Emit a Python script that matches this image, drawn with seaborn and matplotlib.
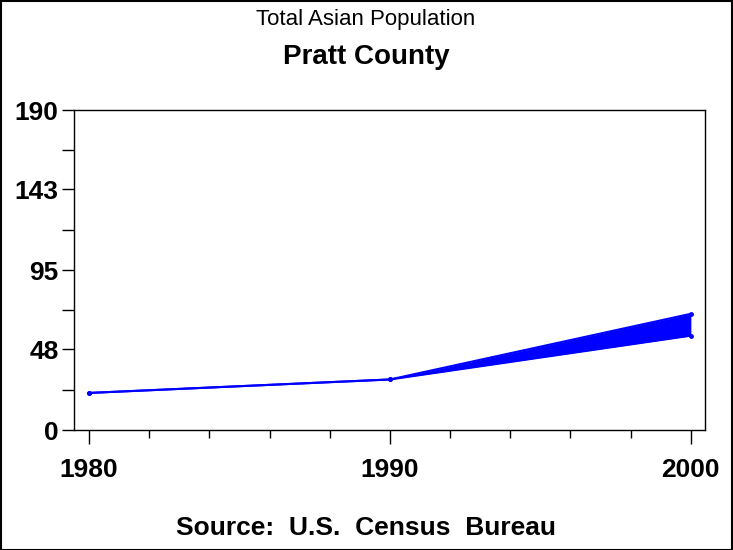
import matplotlib
matplotlib.use("Agg")
import matplotlib.pyplot as plt
import seaborn as sns
import pandas as pd
from matplotlib.ticker import MultipleLocator, FixedLocator

years = [1980, 1990, 2000]
upper = [22, 30, 69]
lower = [22, 30, 56]
yticks = [0, 48, 95, 143, 190]
xticks = [1980, 1990, 2000]

sns.set_style("white")
plt.rcParams['font.family'] = ['Liberation Sans', 'DejaVu Sans']
plt.rcParams['text.color'] = 'black'
plt.rcParams['xtick.color'] = 'black'
plt.rcParams['ytick.color'] = 'black'

fig = plt.figure(figsize=(7.33, 5.5), dpi=100)
ax = fig.add_axes([74/733, 120/550, (705-74)/733, 320/550])

df = pd.DataFrame({"year": years + years, "value": upper + lower,
                   "s": ["u"]*3 + ["l"]*3})
sns.lineplot(data=df, x="year", y="value", units="s", estimator=None,
             color="#0000ff", lw=1.5, marker="o", markersize=3.5,
             markeredgewidth=0, ax=ax, legend=False)
ax.fill_between(years, lower, upper, color="#0000ff", lw=0)

ax.set_xlim(1979.5, 2000.47)
ax.set_ylim(0, 190)
ax.yaxis.set_major_locator(FixedLocator(yticks))
ax.yaxis.set_minor_locator(FixedLocator([24, 71.5, 119, 166.5]))
ax.xaxis.set_major_locator(FixedLocator(xticks))
ax.xaxis.set_minor_locator(MultipleLocator(2))
ax.tick_params(axis="both", which="both", direction="out", color="black",
               labelcolor="black", width=1, length=9, bottom=True, left=True)
ax.tick_params(axis="x", which="major", length=10, pad=10)
ax.tick_params(axis="x", which="minor", length=6)
ax.tick_params(axis="y", which="both", length=9, pad=2)
for lab in ax.get_xticklabels() + ax.get_yticklabels():
    lab.set_fontsize(19)
    lab.set_fontweight("bold")
ax.set_xlabel("")
ax.set_ylabel("")
for sp in ax.spines.values():
    sp.set_color("black")
    sp.set_linewidth(1)

fig.text(366/733, 1 - 20/550, "Total Asian Population", ha="center", va="center", fontsize=16, color="black")
fig.text(366/733, 1 - 57/550, "Pratt County", ha="center", va="center", fontsize=20, fontweight="bold", color="black")
fig.text(366/733, 1 - 528/550, "Source:  U.S.  Census  Bureau", ha="center", va="center", fontsize=19, fontweight="bold", color="black")

border = plt.Rectangle((0.5/733, 0.5/550), 1 - 1.5/733, 1 - 1.5/550, transform=fig.transFigure,
                       fill=False, edgecolor="black", lw=1.5)
fig.patches.append(border)

fig.savefig("out.png", dpi=100)
